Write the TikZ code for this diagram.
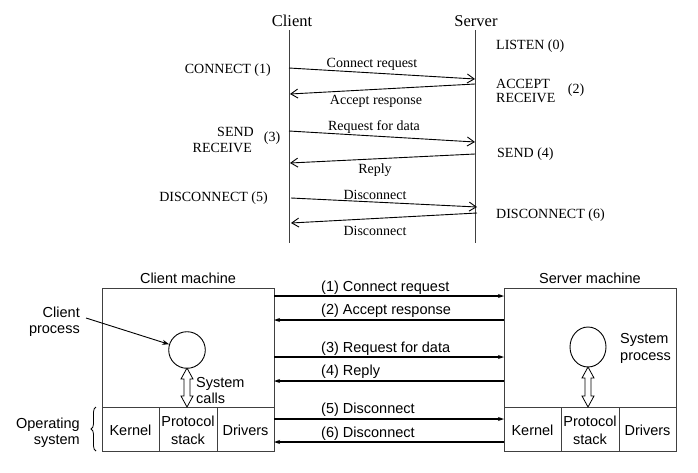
\documentclass[tikz,border=0pt]{standalone}
\usepackage{fontspec}
\setmainfont{Liberation Serif}
\newfontfamily\arial{Liberation Sans}
\usetikzlibrary{arrows.meta,decorations.pathreplacing,shapes.geometric}
\begin{document}
\begin{tikzpicture}[x=1pt,y=-1pt,
  lbl/.style={inner sep=0pt,yshift=-1.5pt,font=\fontsize{14}{15}\selectfont},
  head/.style={inner sep=0pt,yshift=-1pt,font=\fontsize{16.5}{18}\selectfont},
  msg/.style={line width=0.9pt,-{Straight Barb[length=7pt,width=9pt,line width=0.9pt]}},
  life/.style={line width=1pt,black!75},
  sl/.style={inner sep=0pt,yshift=-1.5pt,font=\arial\fontsize{14.5}{16}\selectfont},
  box/.style={draw=black!75,line width=0.9pt},
  wire/.style={line width=1.8pt,-{Stealth[length=6pt,width=4pt]}},
  dbl/.style={draw=black,line width=0.8pt,fill=white}]
\useasboundingbox (0,0) rectangle (698,472);
% ---------- top: time sequence ----------
\node[head] (cl) at (292,20) {Client};
\node[head] (sv) at (476,20) {Server};
\coordinate (ct) at (289,30); \coordinate (cb) at (289,243);
\coordinate (st) at (475,30); \coordinate (sb) at (475,243);
\draw[life] (ct) -- (cb);
\draw[life] (st) -- (sb);
\coordinate (a1) at (289,68);  \coordinate (b1) at (475,79);
\coordinate (a2) at (475,84);  \coordinate (b2) at (290,94);
\coordinate (a3) at (289,131); \coordinate (b3) at (475,142);
\coordinate (a4) at (475,154); \coordinate (b4) at (290,163);
\coordinate (a5) at (291,198); \coordinate (b5) at (477,207);
\coordinate (a6) at (477,213); \coordinate (b6) at (291,223);
\draw[msg] (a1) -- (b1);
\draw[msg] (a2) -- (b2);
\draw[msg] (a3) -- (b3);
\draw[msg] (a4) -- (b4);
\draw[msg] (a5) -- (b5);
\draw[msg] (a6) -- (b6);
\node[lbl] (m1) at (372,63) {Connect request};
\node[lbl] (m2) at (376,100) {Accept response};
\node[lbl] (m3) at (374,126) {Request for data};
\node[lbl] (m4) at (375,169) {Reply};
\node[lbl] (m5) at (375,193) {Disconnect};
\node[lbl] (m6) at (375,229) {Disconnect};
\node[lbl,anchor=west] (s0) at (496,45) {LISTEN (0)};
\node[lbl,anchor=east] (s1) at (271,69) {CONNECT (1)};
\node[lbl,anchor=west] (s2a) at (496,82) {ACCEPT};
\node[lbl,anchor=west] (s2b) at (496,96) {RECEIVE};
\node[lbl] (s2n) at (576,89) {(2)};
\node[lbl,anchor=east] (s3a) at (254,130) {SEND};
\node[lbl,anchor=east] (s3b) at (252,146) {RECEIVE};
\node[lbl] (s3n) at (272,137) {(3)};
\node[lbl,anchor=west] (s4) at (497,153) {SEND (4)};
\node[lbl,anchor=east] (s5) at (268,197) {DISCONNECT (5)};
\node[lbl,anchor=west] (s6) at (496,214) {DISCONNECT (6)};
% ---------- bottom: machines ----------
\node[sl] (cm) at (188,277) {Client machine};
\node[sl] (sm) at (590,277) {Server machine};
\draw[box] (102,288) rectangle (274,451);
\draw[box] (102,407) -- (274,407);
\draw[box] (159,407) -- (159,451);
\draw[box] (217,407) -- (217,451);
\draw[box] (504,288) rectangle (676,451);
\draw[box] (504,407) -- (676,407);
\draw[box] (561,407) -- (561,451);
\draw[box] (619,407) -- (619,451);
\node[sl] (ck) at (130.5,429) {Kernel};
\node[sl,align=center,font=\arial\fontsize{14.5}{18}\selectfont] (cp) at (188,429) {Protocol\\stack};
\node[sl] (cd) at (245.5,429) {Drivers};
\node[sl] (sk) at (532.5,429) {Kernel};
\node[sl,align=center,font=\arial\fontsize{14.5}{18}\selectfont] (sp) at (590,429) {Protocol\\stack};
\node[sl] (sd) at (647.5,429) {Drivers};
% processes
\node[draw,line width=0.9pt,ellipse,minimum width=36.6pt,minimum height=36.6pt,inner sep=0pt] (cc) at (187,350) {};
\node[draw,line width=0.9pt,ellipse,minimum width=36pt,minimum height=40pt,inner sep=0pt] (sc) at (588,347) {};
% hollow double arrows
\draw[dbl] (187,368) -- (193,379) -- (190,379) -- (190,396) -- (193,396) -- (187,407) -- (181,396) -- (184,396) -- (184,379) -- (181,379) -- cycle;
\draw[dbl] (588,367) -- (594,378) -- (591,378) -- (591,396) -- (594,396) -- (588,407) -- (582,396) -- (585,396) -- (585,378) -- (582,378) -- cycle;
\node[sl,anchor=west,align=left,font=\arial\fontsize{14.5}{16.5}\selectfont] (scl) at (196,389) {System\\calls};
\node[sl,anchor=west,align=left,font=\arial\fontsize{14.5}{17}\selectfont] (spl) at (620,346.5) {System\\process};
\node[sl,anchor=east,align=right,font=\arial\fontsize{14.5}{16.5}\selectfont] (cpl) at (80,320) {Client\\process};
\coordinate (cpa) at (86,318);
\draw[line width=0.9pt,-{Stealth[length=7pt,width=5pt]}] (cpa) -- (cc);
\node[sl,anchor=east,align=right,font=\arial\fontsize{14.5}{16.5}\selectfont] (osl) at (80,431) {Operating\\system};
\coordinate (br1) at (96,451); \coordinate (br2) at (96,407);
\draw[line width=0.8pt,decorate,decoration={brace,amplitude=5pt}] (br1) -- (br2);
% wires
\coordinate (w1a) at (274,296); \coordinate (w1b) at (504,296);
\coordinate (w2a) at (504,320); \coordinate (w2b) at (274,320);
\coordinate (w3a) at (274,357); \coordinate (w3b) at (504,357);
\coordinate (w4a) at (504,381); \coordinate (w4b) at (274,381);
\coordinate (w5a) at (274,419); \coordinate (w5b) at (504,419);
\coordinate (w6a) at (504,442); \coordinate (w6b) at (274,442);
\draw[wire] (w1a) -- (w1b);
\draw[wire] (w2a) -- (w2b);
\draw[wire] (w3a) -- (w3b);
\draw[wire] (w4a) -- (w4b);
\draw[wire] (w5a) -- (w5b);
\draw[wire] (w6a) -- (w6b);
\node[sl,anchor=west] (l1) at (321,286) {(1) Connect request};
\node[sl,anchor=west] (l2) at (321,309) {(2) Accept response};
\node[sl,anchor=west] (l3) at (321,347) {(3) Request for data};
\node[sl,anchor=west] (l4) at (321,370) {(4) Reply};
\node[sl,anchor=west] (l5) at (321,408) {(5) Disconnect};
\node[sl,anchor=west] (l6) at (321,432) {(6) Disconnect};
\end{tikzpicture}
\end{document}
